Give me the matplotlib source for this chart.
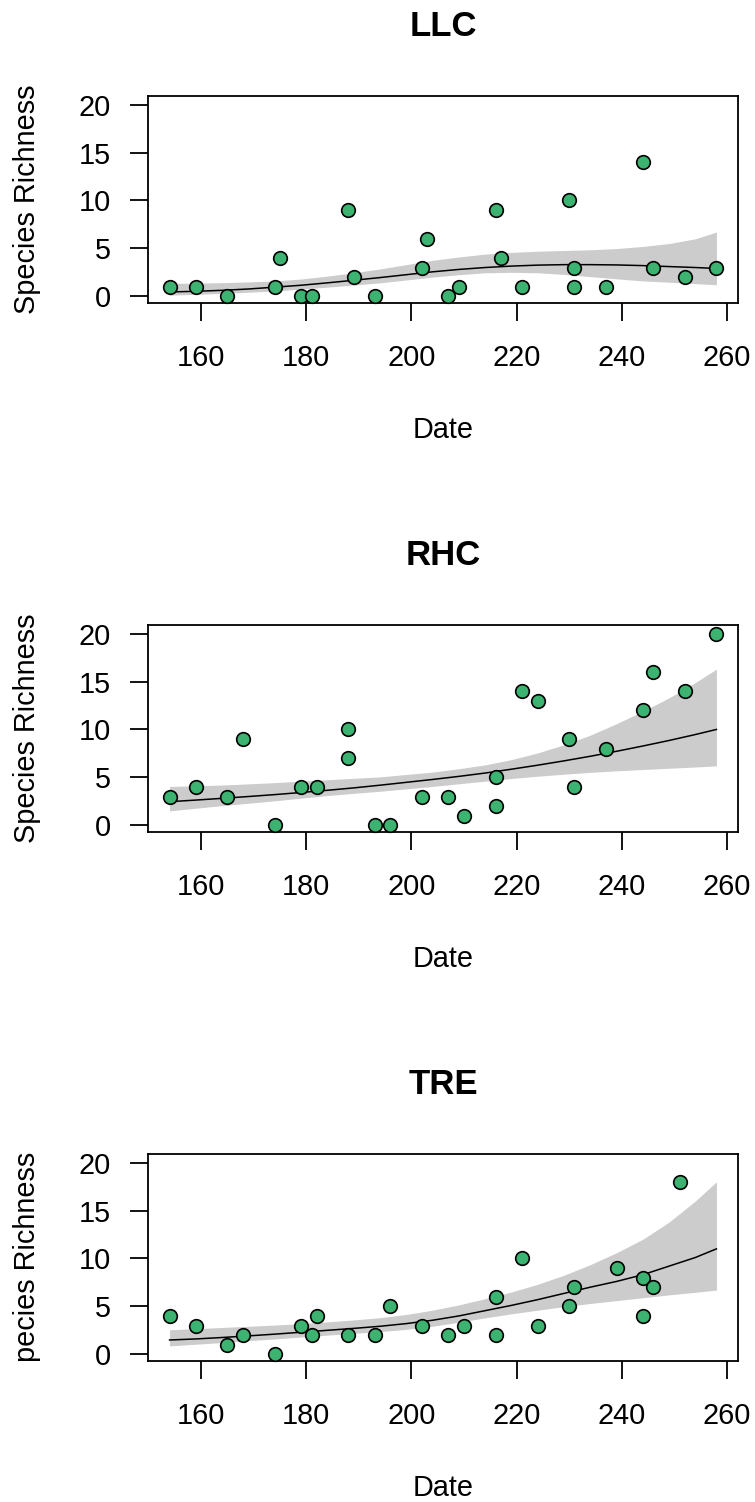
import numpy as np
import matplotlib
matplotlib.use("Agg")
import matplotlib.pyplot as plt

plt.rcParams['font.family'] = ['Liberation Sans', 'DejaVu Sans']

# observed richness per site
sites = ["LLC", "RHC", "TRE"]
ylabels = ["Species Richness", "Species Richness", "pecies Richness"]

llc_date = [154, 159, 165, 174, 175, 179, 181, 188, 189, 193, 202, 203, 207,
            209, 216, 217, 221, 230, 231, 231, 237, 244, 246, 252, 258]
llc_rich = [1, 1, 0, 1, 4, 0, 0, 9, 2, 0, 3, 6, 0,
            1, 9, 4, 1, 10, 3, 1, 1, 14, 3, 2, 3]

rhc_date = [154, 159, 165, 168, 174, 179, 182, 188, 188, 193, 196, 202, 207,
            210, 216, 216, 221, 224, 230, 231, 237, 244, 246, 252, 258]
rhc_rich = [3, 4, 3, 9, 0, 4, 4, 10, 7, 0, 0, 3, 3,
            1, 5, 2, 14, 13, 9, 4, 8, 12, 16, 14, 20]

tre_date = [154, 159, 165, 168, 174, 179, 181, 182, 188, 193, 196, 202, 207,
            210, 216, 216, 221, 224, 230, 231, 239, 244, 244, 246, 251]
tre_rich = [4, 3, 1, 2, 0, 3, 2, 4, 2, 2, 5, 3, 2,
            3, 6, 2, 10, 3, 5, 7, 9, 8, 4, 7, 18]

# fitted curve + confidence band
fit_date = [154, 159, 164, 169, 174, 179, 184, 189, 194, 199, 204,
            209, 214, 219, 224, 229, 234, 239, 244, 249, 254, 258]

llc_fit = [0.45, 0.52, 0.62, 0.76, 0.95, 1.15, 1.4, 1.67, 1.95, 2.25, 2.55,
           2.8, 3.0, 3.15, 3.25, 3.3, 3.3, 3.27, 3.2, 3.1, 3.0, 2.9]
llc_hi = [1.35, 1.37, 1.42, 1.5, 1.6, 1.8, 2.1, 2.45, 2.85, 3.3, 3.75,
          4.1, 4.4, 4.58, 4.7, 4.78, 4.85, 4.98, 5.2, 5.5, 6.0, 6.7]
llc_lo = [0.12, 0.2, 0.3, 0.42, 0.55, 0.75, 0.95, 1.17, 1.4, 1.7, 2.0,
          2.25, 2.45, 2.5, 2.45, 2.28, 2.05, 1.82, 1.6, 1.47, 1.32, 1.2]

rhc_fit = [2.46, 2.63, 2.81, 3.0, 3.2, 3.42, 3.65, 3.9, 4.18, 4.48, 4.78,
           5.1, 5.45, 5.85, 6.27, 6.72, 7.2, 7.72, 8.27, 8.85, 9.47, 10.0]
rhc_hi = [4.05, 4.12, 4.2, 4.32, 4.45, 4.6, 4.75, 4.9, 5.05, 5.3, 5.55,
          5.9, 6.3, 6.85, 7.55, 8.4, 9.4, 10.6, 11.9, 13.3, 14.9, 16.3]
rhc_lo = [1.5, 1.78, 2.05, 2.3, 2.55, 2.83, 3.1, 3.33, 3.55, 3.8, 4.05,
          4.33, 4.6, 4.88, 5.12, 5.33, 5.52, 5.68, 5.82, 5.95, 6.08, 6.2]

tre_fit = [1.49, 1.6, 1.75, 1.92, 2.1, 2.3, 2.5, 2.7, 2.92, 3.2, 3.55,
           4.0, 4.55, 5.1, 5.7, 6.35, 7.0, 7.6, 8.3, 9.2, 10.1, 11.0]
tre_hi = [2.56, 2.67, 2.8, 2.92, 3.05, 3.2, 3.38, 3.58, 3.82, 4.15, 4.6,
          5.15, 5.8, 6.5, 7.3, 8.25, 9.35, 10.6, 12.0, 13.8, 16.0, 18.0]
tre_lo = [0.87, 1.05, 1.22, 1.42, 1.6, 1.8, 2.0, 2.18, 2.36, 2.6, 2.92,
          3.35, 3.8, 4.22, 4.6, 4.97, 5.3, 5.6, 5.9, 6.2, 6.47, 6.7]

points = [(llc_date, llc_rich), (rhc_date, rhc_rich), (tre_date, tre_rich)]
fits = [(llc_fit, llc_lo, llc_hi), (rhc_fit, rhc_lo, rhc_hi), (tre_fit, tre_lo, tre_hi)]

W, H = 755, 1502
fig = plt.figure(figsize=(W / 100, H / 100), dpi=100)

fs = 20.8
for k in range(3):
    top = 96 + 529 * k
    bot = 302.5 + 529 * k
    ax = fig.add_axes([147.7 / W, (H - bot) / H, 590.6 / W, (bot - top) / H])

    fit, lo, hi = fits[k]
    ax.fill_between(fit_date, lo, hi, color="#cccccc", linewidth=0, zorder=1)
    ax.plot(fit_date, fit, color="black", linewidth=1.1, zorder=2)

    x, y = points[k]
    ax.plot(x, y, "o", markersize=9.8, markerfacecolor="#3cb371",
            markeredgecolor="black", markeredgewidth=1.2, zorder=3, clip_on=False)

    ax.set_xlim(149.84, 262.16)
    ax.set_ylim(-0.65, 20.9)
    ax.set_xticks([160, 180, 200, 220, 240, 260])
    ax.set_yticks([0, 5, 10, 15, 20])

    for s in ax.spines.values():
        s.set_linewidth(1.3)
    ax.tick_params(direction="out", length=13, width=1.3, labelsize=fs, colors="black")
    ax.tick_params(axis="x", pad=17)
    ax.tick_params(axis="y", pad=13.5)

    ax.set_title(sites[k], fontsize=25, fontweight="bold", pad=43.4)
    ax.set_xlabel("Date", fontsize=fs)
    ax.xaxis.set_label_coords(0.5, -113.2 / (bot - top))
    ax.set_ylabel(ylabels[k], fontsize=fs)
    ax.yaxis.set_label_coords(-106.7 / 590.6, 0.5)

fig.savefig("out.png", dpi=100, facecolor="white")
